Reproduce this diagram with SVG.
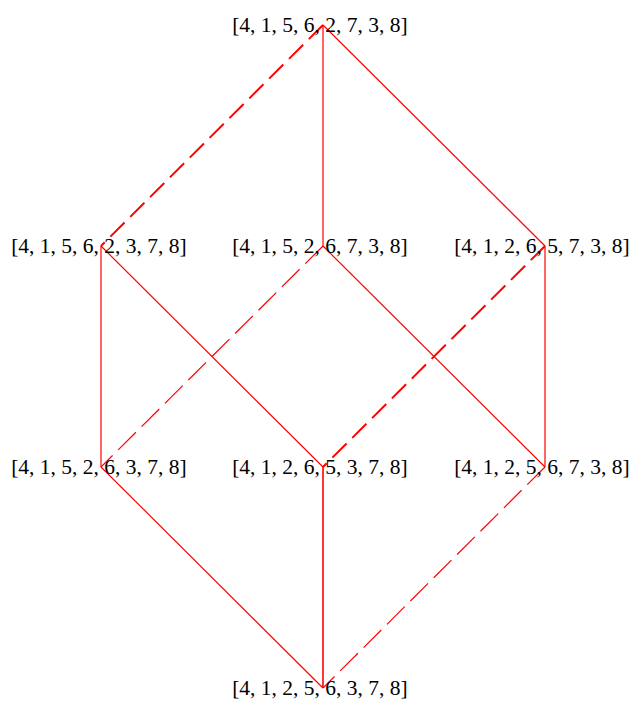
<svg xmlns="http://www.w3.org/2000/svg" width="631" height="704" viewBox="0 0 631 704">
<style>
.e{stroke:#ff0000;fill:none;stroke-width:1.2}
.tk{stroke-width:2;stroke-dasharray:20 8}
.dt{stroke-dasharray:25 8}
.v{stroke-width:1.6}
text{font-family:"Liberation Serif","Times New Roman",serif;font-size:21.5px;fill:#000;text-anchor:middle}
</style>
<rect width="631" height="704" fill="#fff"/>
<g id="connectors">
<line class="e tk" x1="323" y1="25" x2="101" y2="246"/>
<line class="e" x1="323" y1="25" x2="323" y2="246"/>
<line class="e" x1="323" y1="25" x2="545" y2="246"/>
<line class="e" x1="101" y1="246" x2="101" y2="467"/>
<line class="e" x1="101" y1="246" x2="323" y2="467"/>
<line class="e dt" x1="323" y1="246" x2="101" y2="467"/>
<line class="e" x1="323" y1="246" x2="545" y2="467"/>
<line class="e tk" x1="545" y1="246" x2="323" y2="467"/>
<line class="e" x1="545" y1="246" x2="545" y2="467"/>
<line class="e" x1="101" y1="467" x2="323" y2="688"/>
<line class="e v" x1="323" y1="467" x2="323" y2="688"/>
<line class="e dt" x1="545" y1="467" x2="323" y2="688"/>
</g>
<g id="n1"><text x="320" y="32">[4, 1, 5, 6, 2, 7, 3, 8]</text></g>
<g id="n2"><text x="99" y="253">[4, 1, 5, 6, 2, 3, 7, 8]</text></g>
<g id="n3"><text x="320" y="253">[4, 1, 5, 2, 6, 7, 3, 8]</text></g>
<g id="n4"><text x="542" y="253">[4, 1, 2, 6, 5, 7, 3, 8]</text></g>
<g id="n5"><text x="99" y="474">[4, 1, 5, 2, 6, 3, 7, 8]</text></g>
<g id="n6"><text x="320" y="474">[4, 1, 2, 6, 5, 3, 7, 8]</text></g>
<g id="n7"><text x="542" y="474">[4, 1, 2, 5, 6, 7, 3, 8]</text></g>
<g id="n8"><text x="320" y="695">[4, 1, 2, 5, 6, 3, 7, 8]</text></g>
</svg>
